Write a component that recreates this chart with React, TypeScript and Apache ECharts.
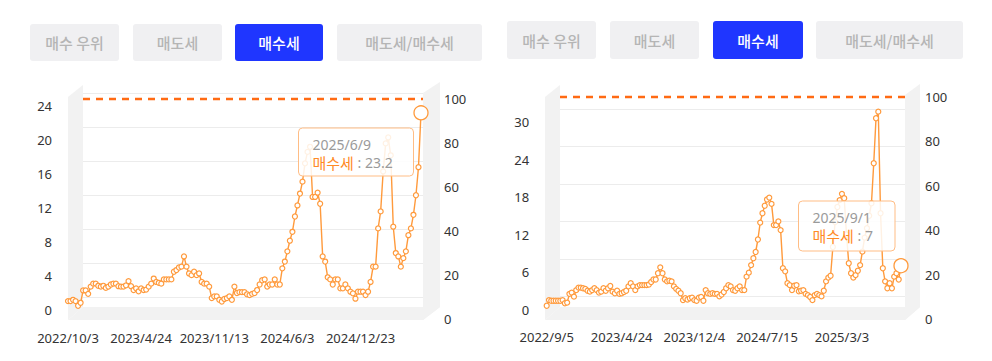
import React, { useEffect, useRef } from 'react';
import * as echarts from 'echarts';

// ---------- data ----------
const buttonLabels = ['매수 우위', '매도세', '매수세', '매도세/매수세'];
const activeButton = 2;
const seriesName = '매수세';

function weeklyDates(y: number, m: number, d: number, count: number): string[] {
  const out: string[] = [];
  const t0 = Date.UTC(y, m - 1, d);
  for (let i = 0; i < count; i++) {
    const dt = new Date(t0 + i * 7 * 86400000);
    out.push(`${dt.getUTCFullYear()}/${dt.getUTCMonth() + 1}/${dt.getUTCDate()}`);
  }
  return out;
}

const leftDates = weeklyDates(2022, 10, 3, 141);
const leftTicks = ['2022/10/3', '2023/4/24', '2023/11/13', '2024/6/3', '2024/12/23'];
const leftValues = [
  1.05, 1.05, 1.2, 1.05, 0.5, 0.85, 2.3, 2.3, 1.9, 2.75,
  3.1, 3.1, 2.85, 2.75, 2.85, 2.6, 2.75, 3.0, 3.1, 3.1,
  2.8, 2.75, 2.75, 2.9, 3.4, 2.8, 2.35, 2.55, 2.2, 2.55,
  2.35, 2.4, 2.75, 3.1, 3.7, 3.3, 3.2, 3.1, 3.6, 3.6,
  3.6, 3.6, 4.5, 4.7, 5.0, 5.1, 6.3, 5.1, 4.3, 4.1,
  4.5, 4.1, 4.3, 3.3, 3.1, 3.1, 2.75, 1.4, 1.6, 1.6,
  1.2, 1.0, 1.3, 1.4, 1.6, 1.2, 2.75, 2.0, 2.1, 2.1,
  2.1, 1.85, 1.75, 1.9, 2.0, 2.35, 3.0, 3.5, 3.6, 2.75,
  3.0, 3.0, 3.6, 3.0, 3.0, 4.9, 5.7, 6.9, 8.15, 9.2,
  11.0, 12.3, 13.7, 15.1, 17.25, 18.6, 19.2, 13.3, 13.3, 13.8,
  12.5, 6.3, 5.7, 3.85, 3.6, 3.0, 3.6, 3.6, 2.55, 2.55,
  3.0, 2.55, 2.15, 1.96, 1.33, 2.15, 2.15, 2.15, 1.76, 2.15,
  3.3, 5.1, 5.1, 9.6, 11.6, 16.3, 19.6, 20.3, 18.2, 9.8,
  6.7, 6.3, 5.1, 6.1, 6.9, 8.8, 9.6, 11.2, 13.5, 16.8,
  23.2,
];

const rightDates = weeklyDates(2022, 9, 5, 157);
const rightTicks = ['2022/9/5', '2023/4/24', '2023/12/4', '2024/7/15', '2025/3/3'];
const rightValues = [
  0.6, 1.5, 1.4, 1.4, 1.4, 1.4, 1.4, 1.5, 1.0, 1.1,
  2.5, 2.7, 2.05, 3.1, 3.5, 3.5, 3.4, 3.3, 3.0, 2.85,
  3.1, 3.4, 3.1, 2.7, 2.85, 3.4, 3.0, 3.4, 3.76, 2.85,
  2.6, 3.0, 2.5, 2.6, 2.8, 3.0, 3.7, 4.2, 3.7, 3.1,
  3.7, 3.9, 3.9, 3.9, 3.9, 4.0, 4.4, 4.8, 4.8, 5.8,
  6.75, 5.8, 4.8, 4.5, 4.6, 4.5, 3.7, 3.3, 3.0, 2.6,
  1.5, 1.8, 1.6, 1.8, 1.9, 1.5, 1.4, 1.9, 2.0, 1.4,
  3.1, 2.6, 2.5, 2.6, 2.5, 2.5, 2.1, 2.4, 2.8, 3.4,
  3.9, 3.7, 3.1, 3.0, 3.4, 3.7, 3.1, 3.1, 5.25, 5.9,
  7.1, 8.2, 9.2, 11.2, 13.9, 15.4, 16.6, 17.6, 17.9, 16.9,
  13.5, 13.5, 14.1, 12.7, 6.6, 6.1, 4.2, 3.9, 3.1, 3.8,
  3.9, 2.9, 3.0, 3.1, 2.5, 2.3, 2.0, 1.5, 2.3, 2.5,
  2.3, 2.1, 3.0, 4.5, 5.1, 5.4, 10.0, 14.0, 16.4, 17.5,
  18.5, 17.8, 12.0, 7.4, 5.8, 5.1, 5.5, 6.2, 7.1, 9.25,
  11.5, 13.0, 15.0, 17.0, 23.4, 30.6, 31.65, 15.4, 6.6, 4.5,
  3.4, 4.2, 3.4, 5.25, 5.8, 4.8, 7.0,
];

const leftYTicks = { min: 0, max: 24, step: 4 };
const rightYTicks = { min: 0, max: 30, step: 6 };
const shareTicks = { min: 0, max: 100, step: 20 };
const refLevel = 100;

// ---------- style ----------
const FONT = "'Noto Sans', 'Noto Sans CJK KR', sans-serif";
const KFONT = "'Noto Sans CJK KR', 'Noto Sans', sans-serif";
const LINE = '#ff9a3c';
const DASH = '#ff6a13';
const WALL = '#f2f2f2';

type Box = { left: number; top: number; width: number; height: number };
type Cfg = {
  dates: string[];
  values: number[];
  ticks: string[];
  y: { min: number; max: number; step: number };
  back: Box;
  data: Box;
  right: Box;
  yMargin: number;
  rMargin: number;
  walls: number[][][];
  tip: { x: number; y: number; w: number; h: number };
  buttons: { xs: number[]; ws: number[]; y: number; h: number };
};

const leftCfg: Cfg = {
  dates: leftDates,
  values: leftValues,
  ticks: leftTicks,
  y: leftYTicks,
  back: { left: 83, top: 93.5, width: 340, height: 204 },
  data: { left: 68, top: 106, width: 353, height: 204 },
  right: { left: 83, top: 99, width: 340, height: 220 },
  yMargin: 16,
  rMargin: 21,
  walls: [
    [[68, 97], [83, 85], [83, 307], [68, 320]],
    [[68, 320], [83, 307], [440, 307], [423, 320]],
    [[423, 93], [440, 82], [440, 307], [423, 320]],
  ],
  tip: { x: 298.5, y: 128, w: 115, h: 48 },
  buttons: { xs: [30, 133, 235, 337], ws: [89, 89, 88, 145], y: 24, h: 37 },
};

const rightCfg: Cfg = {
  dates: rightDates,
  values: rightValues,
  ticks: rightTicks,
  y: rightYTicks,
  back: { left: 560, top: 109, width: 345, height: 187.5 },
  data: { left: 546.7, top: 122, width: 354.3, height: 187.5 },
  right: { left: 560, top: 97, width: 345, height: 222 },
  yMargin: 17.5,
  rMargin: 20,
  walls: [
    [[545, 97], [560, 85], [560, 307], [545, 320]],
    [[545, 320], [560, 307], [920, 307], [905, 320]],
    [[905, 95], [920, 84], [920, 307], [905, 320]],
  ],
  tip: { x: 798.5, y: 201, w: 96.5, h: 50 },
  buttons: { xs: [507, 610, 713, 816], ws: [89, 89, 90, 147], y: 21, h: 38 },
};

function build(cfg: Cfg, gi: number) {
  const grid = [cfg.back, cfg.data, cfg.right];
  const hiddenX = (g: number) => ({
    type: 'category', gridIndex: g, data: cfg.dates, boundaryGap: false, show: false,
  });
  const xAxis = [
    hiddenX(gi),
    {
      type: 'category', gridIndex: gi + 1, data: cfg.dates, boundaryGap: false,
      axisLine: { show: false }, axisTick: { show: false }, splitLine: { show: false },
      axisLabel: {
        interval: (_i: number, v: string) => cfg.ticks.includes(v),
        color: '#333', fontSize: 13, fontFamily: FONT, margin: 21, hideOverlap: false,
      },
    },
    hiddenX(gi + 2),
  ];
  const yAxis = [
    {
      type: 'value', gridIndex: gi, min: cfg.y.min, max: cfg.y.max, interval: cfg.y.step,
      axisLabel: { show: false }, axisLine: { show: false }, axisTick: { show: false },
      splitLine: { show: true, lineStyle: { color: '#ececec', width: 1 } },
    },
    {
      type: 'value', gridIndex: gi + 1, min: cfg.y.min, max: cfg.y.max, interval: cfg.y.step,
      axisLine: { show: false }, axisTick: { show: false }, splitLine: { show: false },
      axisLabel: { color: '#333', fontSize: 13, fontFamily: FONT, margin: cfg.yMargin },
    },
    {
      type: 'value', gridIndex: gi + 2, position: 'right',
      min: shareTicks.min, max: shareTicks.max, interval: shareTicks.step,
      axisLine: { show: false }, axisTick: { show: false }, splitLine: { show: false },
      axisLabel: { color: '#333', fontSize: 13, fontFamily: FONT, margin: cfg.rMargin },
    },
  ];
  const last = cfg.values.length - 1;
  const series = [
    {
      type: 'line', name: seriesName, xAxisIndex: gi + 1, yAxisIndex: gi + 1, clip: false, z: 5,
      data: cfg.values.map((v, i) =>
        i === last ? { value: v, symbolSize: 14, itemStyle: { borderWidth: 1.3 } } : v),
      symbol: 'circle', symbolSize: 5, showAllSymbol: true,
      lineStyle: { color: LINE, width: 1.4 },
      itemStyle: { color: '#fff', borderColor: LINE, borderWidth: 1.2 },
    },
    {
      type: 'line', xAxisIndex: gi + 2, yAxisIndex: gi + 2, clip: false, z: 4,
      data: [[cfg.dates[0], refLevel], [cfg.dates[last], refLevel]],
      symbol: 'none',
      lineStyle: { color: DASH, width: 2.3, type: [7, 6] },
    },
  ];
  const graphic: any[] = [];
  cfg.walls.forEach((pts) => {
    graphic.push({ type: 'polygon', z: -1, shape: { points: pts }, style: { fill: WALL } });
  });
  buttonLabels.forEach((label, i) => {
    const active = i === activeButton;
    graphic.push({
      type: 'rect', z: 1,
      shape: { x: cfg.buttons.xs[i], y: cfg.buttons.y, width: cfg.buttons.ws[i], height: cfg.buttons.h, r: 3 },
      style: { fill: active ? '#1f36ff' : '#f0f0f2' },
    });
    graphic.push({
      type: 'text', z: 2,
      x: cfg.buttons.xs[i] + cfg.buttons.ws[i] / 2, y: cfg.buttons.y + cfg.buttons.h / 2,
      style: {
        text: label, fill: active ? '#ffffff' : '#b5b5b5', fontSize: 15, fontFamily: KFONT,
        fontWeight: 500, align: 'center', verticalAlign: 'middle',
      },
    });
  });
  const t = cfg.tip;
  graphic.push({
    type: 'group', z: 100,
    children: [
      {
        type: 'rect', z: 100,
        shape: { x: t.x, y: t.y, width: t.w, height: t.h, r: 4 },
        style: { fill: 'rgba(255,255,255,0.86)', stroke: '#ffbd85', lineWidth: 1 },
      },
      {
        type: 'text', z: 101, x: t.x + 14, y: t.y + 16,
        style: { text: cfg.dates[last], fill: '#9a9a9a', fontSize: 14, fontFamily: FONT, verticalAlign: 'middle' },
      },
      {
        type: 'text', z: 101, x: t.x + 14, y: t.y + 34,
        style: {
          text: `{a|${seriesName}}{b| : ${cfg.values[last]}}`,
          verticalAlign: 'middle',
          rich: {
            a: { fill: '#ff8a26', fontSize: 15, fontFamily: KFONT },
            b: { fill: '#9a9a9a', fontSize: 14, fontFamily: FONT },
          },
        },
      },
    ],
  });
  return { grid, xAxis, yAxis, series, graphic };
}

export default function App() {
  const ref = useRef<HTMLDivElement>(null);
  useEffect(() => {
    if (!ref.current) return;
    const chart = echarts.init(ref.current, undefined, { renderer: 'svg' });
    const a = build(leftCfg, 0);
    const b = build(rightCfg, 3);
    chart.setOption({
      animation: false,
      backgroundColor: '#ffffff',
      textStyle: { fontFamily: FONT },
      grid: [...a.grid, ...b.grid],
      xAxis: [...a.xAxis, ...b.xAxis],
      yAxis: [...a.yAxis, ...b.yAxis],
      series: [...a.series, ...b.series],
      graphic: [...a.graphic, ...b.graphic],
    });
    return () => chart.dispose();
  }, []);
  return (
    <div
      ref={ref}
      style={{ position: 'fixed', left: 0, top: 0, width: 992, height: 361, background: '#fff' }}
    />
  );
}
